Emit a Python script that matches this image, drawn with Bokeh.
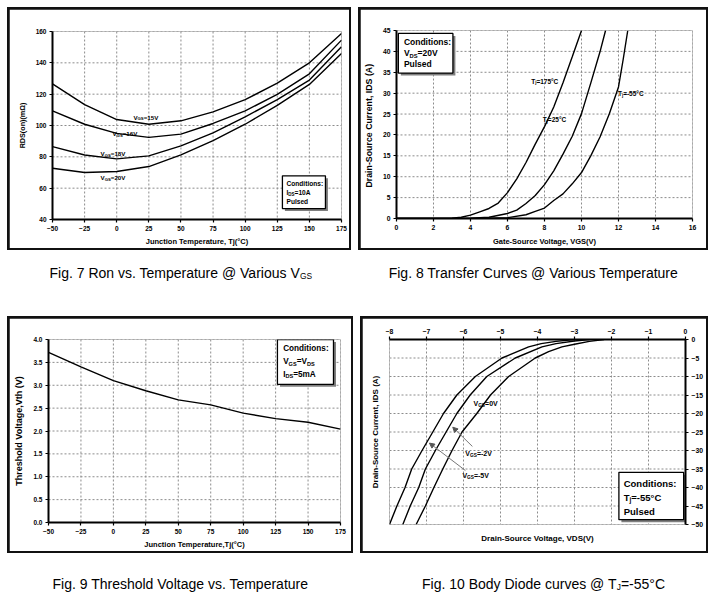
import math
from bokeh.plotting import figure
from bokeh.models import (Label, Arrow, NormalHead, Range1d, FixedTicker, PrintfTickFormatter,
                          LinearAxis, Span, Spacer)
from bokeh.layouts import column, row
from bokeh.embed import file_html
from bokeh.resources import INLINE

# ---------------- data ----------------
# Fig. 7  Ron vs temperature
ron_temp = [-50, -25, 0, 25, 50, 75, 100, 125, 150, 175]
ron_15v = [126.6, 113.3, 103.8, 100.8, 103.0, 108.7, 116.5, 127.0, 140.0, 158.7]
ron_16v = [109.3, 100.8, 95.0, 92.4, 94.5, 101.3, 109.3, 119.9, 133.0, 154.5]
ron_18v = [86.5, 81.2, 78.7, 80.6, 87.0, 95.3, 105.5, 116.5, 129.0, 150.3]
ron_20v = [72.7, 70.0, 70.6, 73.8, 81.2, 90.3, 100.8, 112.9, 126.2, 146.0]
ron_xticks = [-50, -25, 0, 25, 50, 75, 100, 125, 150, 175]
ron_yticks = [40, 60, 80, 100, 120, 140, 160]

# Fig. 8  transfer curves
vgs_175 = [0, 2, 3, 3.5, 4, 4.5, 5, 5.5, 6, 6.5, 7, 7.5, 8, 8.5, 9, 9.5, 10]
ids_175 = [0, 0, 0.1, 0.3, 0.8, 1.6, 2.4, 3.7, 6.2, 9.5, 13.4, 17.8, 22.0, 26.7, 32.5, 38.7, 45.0]
vgs_25 = [0, 3, 4, 5, 6, 6.5, 7, 7.5, 8, 8.5, 9, 9.5, 10, 10.5, 11, 11.3]
ids_25 = [0, 0, 0.1, 0.3, 1.2, 2.0, 3.6, 5.5, 8.1, 11.4, 15.4, 19.7, 25.1, 32.4, 39.9, 45.0]
vgs_m55 = [0, 4, 5, 6, 7, 7.5, 8, 8.5, 9, 9.5, 10, 10.5, 11, 11.5, 12, 12.25, 12.5]
ids_m55 = [0, 0, 0.1, 0.2, 0.9, 1.7, 2.5, 4.3, 5.9, 8.3, 11.0, 15.0, 19.5, 25.0, 31.5, 38.0, 45.0]
tr_xticks = [0, 2, 4, 6, 8, 10, 12, 14, 16]
tr_yticks = [0, 5, 10, 15, 20, 25, 30, 35, 40, 45]

# Fig. 9  threshold voltage
vth_temp = [-50, -25, 0, 25, 50, 75, 100, 125, 150, 175]
vth = [3.72, 3.40, 3.10, 2.88, 2.68, 2.57, 2.39, 2.27, 2.19, 2.04]
vth_xticks = [-50, -25, 0, 25, 50, 75, 100, 125, 150, 175]
vth_yticks = [0, 0.5, 1.0, 1.5, 2.0, 2.5, 3.0, 3.5, 4.0]

# Fig. 10  body diode
bd_v_0v = [-2.2, -2.6, -3.0, -3.34, -3.7, -4.06, -4.78, -5.27, -5.64, -6.04, -6.31, -6.56, -6.8, -7.03, -7.28]
bd_i_0v = [0, -0.5, -1.3, -2.0, -3.3, -5, -10, -15, -20, -25, -30, -35, -40, -45, -50]
bd_v_2v = [-2.6, -3.0, -3.5, -3.88, -4.6, -5.37, -5.82, -6.18, -6.47, -6.76, -7.03, -7.21, -7.44, -7.64]
bd_i_2v = [0, -0.4, -1.1, -2, -5, -10, -15, -20, -25, -30, -35, -40, -45, -50]
bd_v_5v = [-3.0, -3.5, -3.9, -4.24, -4.96, -5.68, -6.18, -6.54, -6.83, -7.12, -7.4, -7.58, -7.8, -8.0]
bd_i_5v = [0, -0.5, -1.1, -2, -5, -10, -15, -20, -25, -30, -35, -40, -45, -50]
bd_xticks = [-8, -7, -6, -5, -4, -3, -2, -1, 0]
bd_yticks = [-50, -45, -40, -35, -30, -25, -20, -15, -10, -5, 0]

FONT = "Liberation Sans"

_BW = {' ': 278, '!': 333, '(': 333, ')': 333, ',': 278, '-': 333, '.': 278, ':': 333, '=': 584,
       '@': 975, '°': 400, 'Ω': 768,
       'A': 722, 'B': 722, 'C': 722, 'D': 722, 'E': 667, 'F': 611, 'G': 778, 'H': 722, 'I': 278,
       'J': 556, 'K': 722, 'L': 611, 'M': 833, 'N': 722, 'O': 778, 'P': 667, 'Q': 778, 'R': 722,
       'S': 667, 'T': 611, 'U': 722, 'V': 667, 'W': 944, 'X': 667, 'Y': 667, 'Z': 611,
       'a': 556, 'b': 611, 'c': 556, 'd': 611, 'e': 556, 'f': 333, 'g': 611, 'h': 611, 'i': 278,
       'j': 278, 'k': 556, 'l': 278, 'm': 889, 'n': 611, 'o': 611, 'p': 611, 'q': 611, 'r': 389,
       's': 556, 't': 333, 'u': 611, 'v': 556, 'w': 778, 'x': 556, 'y': 556, 'z': 500}
_RW = {' ': 278, '(': 333, ')': 333, ',': 278, '-': 333, '.': 278, ':': 278, '=': 584,
       '@': 1015, '°': 400,
       'A': 667, 'B': 667, 'C': 722, 'D': 722, 'E': 667, 'F': 611, 'G': 778, 'H': 722, 'I': 278,
       'J': 500, 'K': 667, 'L': 556, 'M': 833, 'N': 722, 'O': 778, 'P': 667, 'Q': 778, 'R': 722,
       'S': 667, 'T': 611, 'U': 722, 'V': 667, 'W': 944, 'X': 667, 'Y': 667, 'Z': 611,
       'a': 556, 'b': 556, 'c': 500, 'd': 556, 'e': 556, 'f': 278, 'g': 556, 'h': 556, 'i': 222,
       'j': 222, 'k': 500, 'l': 222, 'm': 833, 'n': 556, 'o': 556, 'p': 556, 'q': 556, 'r': 333,
       's': 500, 't': 278, 'u': 556, 'v': 500, 'w': 722, 'x': 500, 'y': 500, 'z': 500}


def tw(s, size, bold=True):
    tab = _BW if bold else _RW
    return sum(tab.get(c, 556) for c in s) / 1000.0 * size


def rich(p, x, y, parts, size, align="center", sub=0.68, bold=True, color="black", dx=0.0):
    """Text made of normal and subscript pieces; the first piece is right-aligned at the
    join so that estimation errors only affect the short trailing pieces."""
    sizes = [size * (sub if s else 1.0) for _, s in parts]
    ws = [tw(t, fs, bold) for (t, _), fs in zip(parts, sizes)]
    total = sum(ws)
    start = dx + {"left": 0.0, "center": -total / 2.0, "right": -total}[align]
    common = dict(text_font=FONT, text_font_style="bold" if bold else "normal",
                  text_baseline="middle", text_color=color)
    if len(parts) == 1:
        p.add_layout(Label(x=x, y=y, x_offset=dx, y_offset=0, text=parts[0][0],
                           text_font_size=f"{size:.2f}px", text_align=align, **common))
        return
    pos = start + ws[0]
    for i, ((t, s), fs, w) in enumerate(zip(parts, sizes, ws)):
        down = 0.24 * size if s else 0.0
        p.add_layout(Label(x=x, y=y, x_offset=pos, y_offset=-down, text=t,
                           text_font_size=f"{fs:.2f}px",
                           text_align="right" if i == 0 else "left", **common))
        if i > 0:
            pos += w


def style_axis(ax, tick_size, label_size, label_standoff):
    ax.axis_line_width = 2
    ax.axis_line_color = "black"
    ax.major_tick_line_width = 1.2
    ax.major_tick_line_color = "black"
    ax.major_tick_out = 3
    ax.major_tick_in = 0
    ax.minor_tick_line_color = None
    ax.major_label_text_font = FONT
    ax.major_label_text_font_style = "bold"
    ax.major_label_text_font_size = f"{tick_size}px"
    ax.major_label_text_color = "black"
    ax.major_label_standoff = 3
    ax.axis_label_text_font = FONT
    ax.axis_label_text_font_style = "bold"
    ax.axis_label_text_font_size = f"{label_size}px"
    ax.axis_label_text_color = "black"
    ax.axis_label_standoff = label_standoff


def panel(w, h, xr, yr, borders, xticks, yticks, x_loc="below", y_loc="left"):
    # the figure sits inside a 2px black frame (the wrapper's background)
    lb, rb, tb, bb = borders
    p = figure(width=w - 4, height=h - 4, x_range=Range1d(*xr), y_range=Range1d(*yr),
               output_backend="svg", toolbar_location=None, title=None,
               x_axis_location=x_loc, y_axis_location=y_loc,
               min_border_left=lb - 2, min_border_right=rb - 2,
               min_border_top=tb - 2, min_border_bottom=bb - 2, margin=(2, 2, 2, 2))
    p.outline_line_color = None
    p.border_fill_color = "white"
    p.xaxis.ticker = FixedTicker(ticks=xticks)
    p.yaxis.ticker = FixedTicker(ticks=yticks)
    p.grid.visible = False
    for v in xticks:
        p.add_layout(Span(location=v, dimension="height", line_color="#8c8c8c",
                          line_dash="2 2", line_width=1, level="underlay"))
    for v in yticks:
        p.add_layout(Span(location=v, dimension="width", line_color="#8c8c8c",
                          line_dash="2 2", line_width=1, level="underlay"))
    return p


def boxed(p):
    return column(p, styles={"background-color": "#111111"})


def cond_box(p, l, r, t, b, pxx, pxy, lines, size, text_x, text_ys):
    sx, sy = 2.5 / pxx, 2.5 / pxy
    p.quad(left=[l + sx], right=[r + sx], top=[t - sy], bottom=[b - sy],
           fill_color="#7f7f7f", line_color=None)
    p.quad(left=[l], right=[r], top=[t], bottom=[b], fill_color="white",
           line_color="black", line_width=1.3)
    for parts, ty in zip(lines, text_ys):
        rich(p, text_x, ty, parts, size, align="left")


def caption(w, h, parts, size, y_from_top, dx=0.0):
    c = figure(width=w, height=h, x_range=Range1d(0, w), y_range=Range1d(0, h),
               output_backend="svg", toolbar_location=None, title=None, min_border=0,
               min_border_left=0, min_border_right=0, min_border_top=0, min_border_bottom=0,
               x_axis_type=None, y_axis_type=None)
    c.outline_line_color = None
    c.grid.visible = False
    c.border_fill_color = "white"
    rich(c, w / 2.0, h - y_from_top, parts, size, align="center", sub=0.6, bold=False,
         color="black", dx=dx)
    return c


LW = 1.4

# ---------------- Fig. 7 ----------------
p1 = panel(344, 243, (-50, 175), (40, 160), (45, 10, 24, 30), ron_xticks, ron_yticks)
p1.yaxis.formatter = PrintfTickFormatter(format="%d")
for ax in p1.xaxis:
    style_axis(ax, 6.5, 7.5, 3)
    ax.axis_label = "Junction Temperature, Tj(°C)"
for ax in p1.yaxis:
    style_axis(ax, 6.5, 7.2, 6)
    ax.axis_label = "RDS(on)(mΩ)"
for ys in (ron_15v, ron_16v, ron_18v, ron_20v):
    p1.line(ron_temp, ys, line_color="black", line_width=LW)
px1x, px1y = 289 / 225, 189 / 120
rich(p1, 13, 105.4, [("V", 0), ("GS", 1), ("=15V", 0)], 6.2, align="left")
rich(p1, -3.3, 94.6, [("V", 0), ("GS", 1), ("=16V", 0)], 6.2, align="left")
rich(p1, -12.6, 81.9, [("V", 0), ("GS", 1), ("=18V", 0)], 6.2, align="left")
rich(p1, -12.6, 66.7, [("V", 0), ("GS", 1), ("=20V", 0)], 6.2, align="left")
cond_box(p1, 129, 162.5, 67.9, 47, px1x, px1y,
         [[("Conditions:", 0)], [("I", 0), ("DS", 1), ("=10A", 0)], [("Pulsed", 0)]],
         6.6, 132.2, [62.8, 57.1, 51.6])

# ---------------- Fig. 8 ----------------
p2 = panel(350, 243, (0, 16), (0, 45), (35, 16, 23, 30), tr_xticks, tr_yticks)
for ax in p2.xaxis:
    style_axis(ax, 6.8, 7.5, 4)
    ax.axis_label = "Gate-Source Voltage, VGS(V)"
for ax in p2.yaxis:
    style_axis(ax, 6.8, 8.8, 6)
    ax.axis_label = "Drain-Source Current, IDS  (A)"
for xs, ys in ((vgs_175, ids_175), (vgs_25, ids_25), (vgs_m55, ids_m55)):
    p2.line(xs, ys, line_color="black", line_width=LW)
px2x, px2y = 299 / 16, 190 / 45
rich(p2, 7.28, 32.9, [("T", 0), ("j", 1), ("=175°C", 0)], 6.5, align="left")
rich(p2, 7.9, 23.7, [("T", 0), ("j", 1), ("=25°C", 0)], 6.5, align="left")
rich(p2, 11.97, 29.9, [("T", 0), ("j", 1), ("=-55°C", 0)], 6.5, align="left")
cond_box(p2, 0.1, 3.05, 44.3, 34.8, px2x, px2y,
         [[("Conditions:", 0)], [("V", 0), ("DS", 1), ("=20V", 0)], [("Pulsed", 0)]],
         8.5, 0.4, [42.25, 39.5, 36.9])

# ---------------- Fig. 9 ----------------
p3 = panel(346, 237, (-50, 175), (0, 4), (41, 13, 23, 27), vth_xticks, vth_yticks)
p3.yaxis.formatter = PrintfTickFormatter(format="%.1f")
for ax in p3.xaxis:
    style_axis(ax, 6.5, 7.5, 3)
    ax.axis_label = "Junction Temperature,Tj(°C)"
for ax in p3.yaxis:
    style_axis(ax, 6.5, 9.0, 6)
    ax.axis_label = "Threshold Voltage,Vth (V)"
p3.line(vth_temp, vth, line_color="black", line_width=LW)
px3x, px3y = 292 / 225, 187 / 4
cond_box(p3, 126.4, 169.6, 4.0, 3.02, px3x, px3y,
         [[("Conditions:", 0)], [("V", 0), ("GS", 1), ("=V", 0), ("DS", 1)],
          [("I", 0), ("DS", 1), ("=5mA", 0)]],
         8.2, 130.8, [3.80, 3.51, 3.24])

# ---------------- Fig. 10 ----------------
p4 = panel(348, 237, (-8, 0), (-50, 0), (29, 23, 23, 29), bd_xticks, bd_yticks,
           x_loc="above", y_loc="right")
for ax in p4.axis:
    style_axis(ax, 6.8, 7.5, 3)
bottom_ax = LinearAxis(ticker=FixedTicker(ticks=[]), axis_label="Drain-Source Voltage, VDS(V)")
left_ax = LinearAxis(ticker=FixedTicker(ticks=[]), axis_label="Drain-Source Current, IDS (A)")
for ax in (bottom_ax, left_ax):
    style_axis(ax, 6.8, 8.0, 0)
    ax.axis_line_color = None
    ax.major_tick_line_color = None
    ax.major_label_text_font_size = "0px"
    ax.major_label_standoff = 0
    ax.major_tick_out = 0
bottom_ax.axis_label_standoff = 9
left_ax.axis_label_standoff = 10
p4.add_layout(bottom_ax, "below")
p4.add_layout(left_ax, "left")
for xs, ys in ((bd_v_0v, bd_i_0v), (bd_v_2v, bd_i_2v), (bd_v_5v, bd_i_5v)):
    p4.line(xs, ys, line_color="black", line_width=LW)
px4x, px4y = 296 / 8, 185 / 50
rich(p4, -5.73, -17.3, [("V", 0), ("GS", 1), ("=0V", 0)], 7, align="left")
rich(p4, -5.95, -30.8, [("V", 0), ("GS", 1), ("=-2V", 0)], 7, align="left")
rich(p4, -6.03, -36.8, [("V", 0), ("GS", 1), ("=-5V", 0)], 7, align="left")
for (xa, ya, xb, yb) in ((-5.76, -28.9, -6.29, -23.7), (-5.95, -35.4, -6.92, -28.0)):
    p4.add_layout(Arrow(x_start=xa, y_start=ya, x_end=xb, y_end=yb, line_color="#777777",
                        line_width=1,
                        end=NormalHead(size=5, fill_color="#555555", line_color="#555555")))
cond_box(p4, -1.80, -0.05, -35.9, -48.7, px4x, px4y,
         [[("Conditions:", 0)], [("T", 0), ("j", 1), ("=-55°C", 0)], [("Pulsed", 0)]],
         9.5, -1.67, [-38.8, -42.6, -46.4])

# ---------------- captions ----------------
cap1 = caption(344, 66, [("Fig. 7 Ron vs. Temperature @ Various V", 0), ("GS", 1)], 14, 22)
cap2 = caption(350, 66, [("Fig. 8 Transfer Curves @ Various Temperature", 0)], 14, 22)
cap3 = caption(346, 40, [("Fig. 9 Threshold Voltage vs. Temperature", 0)], 14, 30)
cap4 = caption(348, 40, [("Fig. 10 Body Diode curves @ T", 0), ("J", 1), ("=-55°C", 0)], 14, 30,
               dx=9)

layout = column(
    Spacer(height=7),
    row(Spacer(width=7), boxed(p1), Spacer(width=7), boxed(p2)),
    row(Spacer(width=7), cap1, Spacer(width=7), cap2),
    row(Spacer(width=7), boxed(p3), Spacer(width=7), boxed(p4)),
    row(Spacer(width=7), cap3, Spacer(width=7), cap4),
)

open("out.html", "w").write(file_html(layout, INLINE))
